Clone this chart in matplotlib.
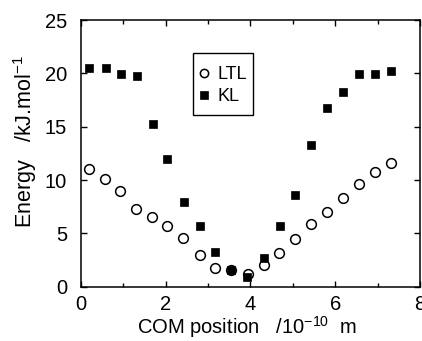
import matplotlib
matplotlib.use("Agg")
import matplotlib.pyplot as plt
from matplotlib.patches import Rectangle
from matplotlib.ticker import MultipleLocator

plt.rcParams['font.family'] = ['Liberation Sans', 'DejaVu Sans']
plt.rcParams['mathtext.fontset'] = 'custom'
plt.rcParams['mathtext.rm'] = 'Liberation Sans'
plt.rcParams['mathtext.it'] = 'Liberation Sans'

# Centre-of-mass position along the channel (1e-10 m)
ltl_x = [0.19, 0.57, 0.93, 1.30, 1.68, 2.04, 2.41, 2.80, 3.16, 3.55,
         3.95, 4.31, 4.68, 5.05, 5.43, 5.80, 6.19, 6.56, 6.93, 7.31]
# LTL energy profile (kJ/mol)
ltl_e = [11.04, 10.13, 9.00, 7.31, 6.50, 5.69, 4.53, 2.94, 1.72, 1.56,
         1.15, 2.06, 3.18, 4.47, 5.91, 6.98, 8.29, 9.63, 10.73, 11.58]

kl_x = [0.20, 0.58, 0.94, 1.32, 1.69, 2.04, 2.42, 2.81, 3.17, 3.55,
        3.93, 4.31, 4.69, 5.06, 5.43, 5.81, 6.19, 6.56, 6.94, 7.32]
# KL energy profile (kJ/mol)
kl_e = [20.5, 20.5, 19.9, 19.8, 15.3, 11.95, 7.94, 5.72, 3.28, 1.56,
        0.93, 2.71, 5.66, 8.60, 13.27, 16.74, 18.24, 19.90, 19.90, 20.27]

fig = plt.figure(figsize=(4.22, 3.41), dpi=100)
ax = fig.add_axes([0.192, 0.1595, 0.803, 0.7815])

ax.plot(ltl_x, ltl_e, linestyle='none', marker='o', markersize=7.0,
        markerfacecolor='white', markeredgecolor='black', markeredgewidth=1.1,
        label='LTL', zorder=3)
ax.plot(kl_x, kl_e, linestyle='none', marker='s', markersize=6.0,
        markerfacecolor='black', markeredgecolor='black', markeredgewidth=0.5,
        label='KL', zorder=4)

ax.set_xlim(0, 8)
ax.set_ylim(0, 25)
ax.xaxis.set_major_locator(MultipleLocator(2))
ax.xaxis.set_minor_locator(MultipleLocator(1))
ax.yaxis.set_major_locator(MultipleLocator(5))

ax.tick_params(which='both', direction='in', top=True, right=True,
               labelsize=14.5, width=1.0, color='black')
ax.tick_params(axis='x', which='major', length=4, pad=6)
ax.tick_params(axis='x', which='minor', length=3)
ax.tick_params(axis='y', which='major', length=4, pad=10)

for s in ax.spines.values():
    s.set_linewidth(1.1)
    s.set_color('black')

ax.set_xlabel(r'COM position   /10$^{-10}$  m', fontsize=14.5)
ax.set_ylabel(r'Energy   /kJ.mol$^{-1}$', fontsize=15.5)
ax.xaxis.set_label_coords(0.489, -0.105)
ax.yaxis.set_label_coords(-0.165, 0.545)
ax.yaxis.label.set_verticalalignment('center')

# legend entries without their own frame; the box is drawn separately
leg = ax.legend(loc='center left', bbox_to_anchor=(0.347, 0.754), fontsize=13,
                frameon=False, handlelength=0.6, handletextpad=0.45,
                borderpad=0, labelspacing=0.3, borderaxespad=0,
                markerscale=0.85)
box = Rectangle((0.329, 0.644), 0.178, 0.232, transform=ax.transAxes,
                fill=False, edgecolor='black', linewidth=1.0, zorder=5)
ax.add_patch(box)

fig.savefig('out.png', dpi=100)
